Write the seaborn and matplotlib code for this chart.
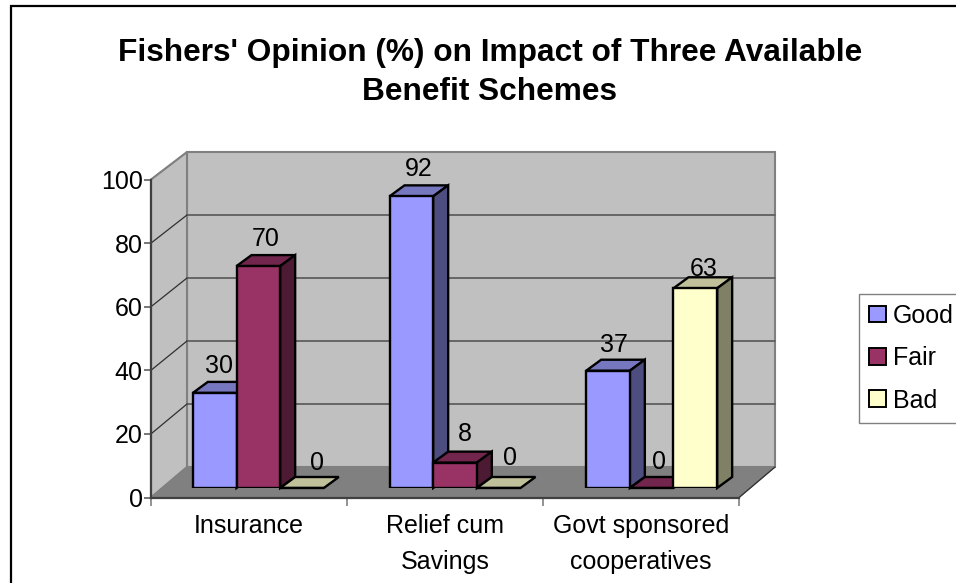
import matplotlib
matplotlib.use("Agg")
import matplotlib.pyplot as plt
from matplotlib.patches import Polygon, Rectangle
import pandas as pd
import seaborn as sns

categories = ["Insurance", "Relief cum\nSavings", "Govt sponsored\ncooperatives"]
series = ["Good", "Fair", "Bad"]
good = [30, 92, 37]
fair = [70, 8, 0]
bad = [0, 0, 63]
y_ticks = [0, 20, 40, 60, 80, 100]
title = "Fishers' Opinion (%) on Impact of Three Available\nBenefit Schemes"

front_colors = ["#9999FF", "#993366", "#FFFFCC"]
top_colors = ["#7777C0", "#73264D", "#C0C09A"]
side_colors = ["#4D4D80", "#4D1A33", "#808066"]

W, H = 956, 583
sns.set_theme(style="white")
plt.rcParams["font.family"] = ["Liberation Sans", "DejaVu Sans"]
fig = plt.figure(figsize=(W / 100, H / 100), dpi=100, facecolor="white")


def box(l, t, r, b):
    return [l / W, 1 - b / H, (r - l) / W, (b - t) / H]


# Outer chart frame: only left and top edges fall inside the picture
fig.add_artist(Rectangle((11 / W, -0.1), 1.1, 1 - 6 / H + 0.1, transform=fig.transFigure,
                         fill=False, edgecolor="black", linewidth=1.6))

# Front plane axes: scales, ticks and walls
ax0 = fig.add_axes(box(151, 179.5, 739, 497.5), facecolor="none")
ax0.set_xlim(0, 3)
ax0.set_ylim(0, 100)
DX = 36 / 196


def back(v):
    return (497.5 - (467 - 3.15 * v)) / 3.18


WALL, FLOOR, EDGE = "#C0C0C0", "#808080", "#808080"
ax0.add_patch(Polygon([(DX, back(0)), (3 + DX, back(0)), (3 + DX, back(100)), (DX, back(100))],
                      closed=True, facecolor=WALL, edgecolor=EDGE, linewidth=1.5, clip_on=False, zorder=1))
ax0.add_patch(Polygon([(0, 0), (DX, back(0)), (DX, back(100)), (0, 100)],
                      closed=True, facecolor=WALL, edgecolor=EDGE, linewidth=1.5, clip_on=False, zorder=1))
ax0.add_patch(Polygon([(0, 0), (3, 0), (3 + DX, back(0)), (DX, back(0))],
                      closed=True, facecolor=FLOOR, edgecolor=FLOOR, linewidth=1, clip_on=False, zorder=1.1))
for v in y_ticks[1:-1]:
    ax0.plot([DX, 3 + DX], [back(v), back(v)], color="#5F5F5F", lw=1.3, clip_on=False, zorder=1.2)
for v in y_ticks[1:-1] + [100]:
    ax0.plot([0, DX], [v, back(v)], color="#303030" if v < 100 else EDGE, lw=0.9, clip_on=False, zorder=1.2)
ax0.plot([3, 3 + DX], [0, back(0)], color="#303030", lw=0.9, clip_on=False, zorder=1.2)

sns.despine(ax=ax0)
for s in ("left", "bottom"):
    ax0.spines[s].set_color("#404040")
    ax0.spines[s].set_linewidth(1.6)
ax0.set_yticks(y_ticks)
ax0.set_xticks([0, 1, 2, 3])
ax0.set_xticklabels([])
ax0.set_xticks([0.5, 1.5, 2.5], minor=True)
ax0.set_xticklabels(categories, minor=True, fontsize=18, linespacing=1.62, color="black", va="top")
ax0.tick_params(axis="y", which="major", left=True, length=5, width=1.2, color="#606060",
                labelsize=18, labelcolor="black", pad=1)
ax0.tick_params(axis="x", which="major", bottom=True, length=6, width=1.2, color="#808080")
ax0.tick_params(axis="x", which="minor", bottom=False, pad=8)

# Bars sit slightly inside the floor, so they get their own shifted axes
ax = fig.add_axes(box(160, 171, 750, 488), facecolor="none")
df = pd.DataFrame({
    "category": categories * 3,
    "series": [s for s in series for _ in categories],
    "value": good + fair + bad,
})
sns.barplot(data=df, x="category", y="value", hue="series", order=categories, hue_order=series,
            palette=front_colors, width=0.666, gap=0, saturation=1, edgecolor="black",
            linewidth=1.7, ax=ax, legend=False, errorbar=None)
ax.set_xlim(-0.5, 2.5)
ax.set_ylim(0, 100)
ax.axis("off")

PX = (2.5 + 0.5) / 590
PY = 100 / 317
bar_dx, bar_dy = 15 * PX, 11 * PY

# label offsets in screen pixels relative to the centre of the bar's top edge
default_off = (7, 27)
special_off = {(0, 0): (4, 27), (0, 2): (15, 25), (1, 2): (11, 30), (2, 0): (6, 26), (2, 1): (7, 26),
               (2, 2): (8, 19), (1, 1): (10, 29)}

for si, cont in enumerate(ax.containers):
    for ci, bar in enumerate(cont):
        x0, w, h = bar.get_x(), bar.get_width(), bar.get_height()
        order = 3 + ci * 3 + si
        bar.set_zorder(order + 0.5)
        ax.add_patch(Polygon([(x0, h), (x0 + w, h), (x0 + w + bar_dx, h + bar_dy), (x0 + bar_dx, h + bar_dy)],
                             closed=True, facecolor=top_colors[si], edgecolor="black", linewidth=1.7,
                             clip_on=False, zorder=order))
        if h > 0:
            ax.add_patch(Polygon([(x0 + w, 0), (x0 + w + bar_dx, bar_dy), (x0 + w + bar_dx, h + bar_dy), (x0 + w, h)],
                                 closed=True, facecolor=side_colors[si], edgecolor="black", linewidth=1.7,
                                 clip_on=False, zorder=order))
        ox, oy = special_off.get((ci, si), default_off)
        ax.annotate(f"{int(h)}", (x0 + w / 2, h), xytext=(ox * 0.72, oy * 0.72), textcoords="offset points",
                    ha="center", va="center", fontsize=18, color="black", zorder=50, annotation_clip=False)

# Title
fig.text(490 / W, 1 - 72.5 / H, title, ha="center", va="center", fontsize=22.8, fontweight="bold",
         color="black", linespacing=1.38)

# Legend
handles = [Rectangle((0, 0), 1, 1, facecolor=c, edgecolor="black", linewidth=1.4) for c in front_colors]
leg = fig.legend(handles, series, loc="upper left", bbox_to_anchor=(859 / W, 1 - 294 / H),
                 bbox_transform=fig.transFigure, fontsize=18, frameon=True, fancybox=False,
                 edgecolor="#808080", facecolor="white", framealpha=1, borderpad=0.4,
                 handlelength=0.68, handleheight=0.64, handletextpad=0.28, labelspacing=0.73,
                 borderaxespad=0, labelcolor="black")
leg.get_frame().set_linewidth(1.0)

fig.savefig("out.png", dpi=100)
